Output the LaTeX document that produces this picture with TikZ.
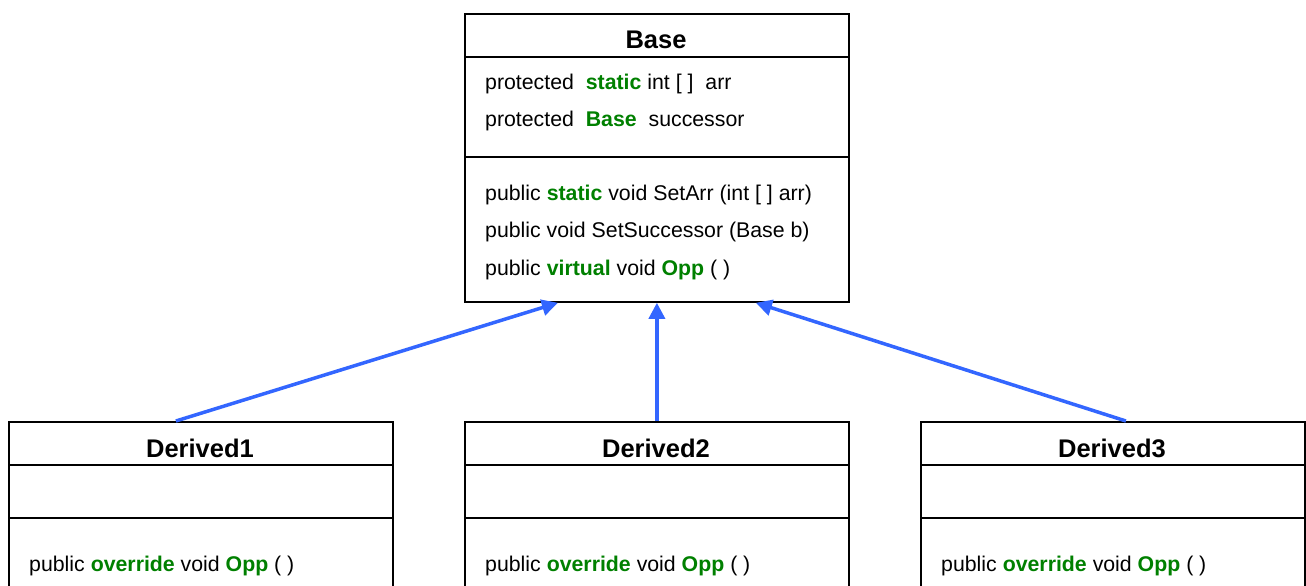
\documentclass[tikz,border=0pt]{standalone}
\usepackage{fontspec}
\setmainfont{Liberation Sans}
\usetikzlibrary{arrows.meta,positioning}

\definecolor{kwgreen}{RGB}{0,128,0}
\definecolor{linkblue}{RGB}{51,102,255}
\newcommand{\kw}[1]{\textcolor{kwgreen}{\textbf{#1}}}

\begin{document}
\begin{tikzpicture}[x=1pt, y=-1pt,
    classbox/.style={rectangle, draw, line width=1.8pt, minimum width=384pt, anchor=north west, inner sep=0pt},
    classtitle/.style={font=\fontsize{25.5}{30}\selectfont\bfseries, inner sep=0pt},
    member/.style={font=\fontsize{21.3}{25}\selectfont, anchor=west, inner sep=0pt},
    inherit/.style={draw=linkblue, line width=3.5pt, -{Triangle[length=16pt,width=16pt]}}]
    \useasboundingbox (0,0) rectangle (1306,586);
    \clip (0,0) rectangle (1306,586);

    % base class
    \node (base) [classbox, minimum height=288pt] at (464,13) {};
    \node (basename) [classtitle] at (656,40) {Base};
    \draw[line width=1.8pt] (base.west |- 0,57) -- (base.east |- 0,57);
    \node (arr) [member] at (485,84) {protected~~\kw{static} int [ ]~~arr};
    \node (succ) [member] at (485,121) {protected~~\kw{Base}~~successor};
    \draw[line width=1.8pt] (base.west |- 0,157) -- (base.east |- 0,157);
    \node (setarr) [member] at (485,195) {public \kw{static} void SetArr (int [ ] arr)};
    \node (setsucc) [member] at (485,232) {public void SetSuccessor (Base b)};
    \node (opp) [member] at (485,270) {public \kw{virtual} void \kw{Opp} ( )};

    % derived classes
    \foreach \i/\x in {1/8, 2/464, 3/920} {
        \node (d\i) [classbox, minimum height=200pt] at (\x,421) {};
        \node (d\i name) [classtitle] at (\x+192,448) {Derived\i};
        \draw[line width=1.8pt] (d\i.west |- 0,465) -- (d\i.east |- 0,465);
        \draw[line width=1.8pt] (d\i.west |- 0,518) -- (d\i.east |- 0,518);
        \node (d\i opp) [member] at (\x+21,566) {public \kw{override} void \kw{Opp} ( )};
    }

    \draw[inherit] ([xshift=-25pt]d1.north) -- ([xshift=-99pt]base.south);
    \draw[inherit] (d2.north) -- (base.south);
    \draw[inherit] ([xshift=13pt]d3.north) -- ([xshift=99pt]base.south);
\end{tikzpicture}
\end{document}
